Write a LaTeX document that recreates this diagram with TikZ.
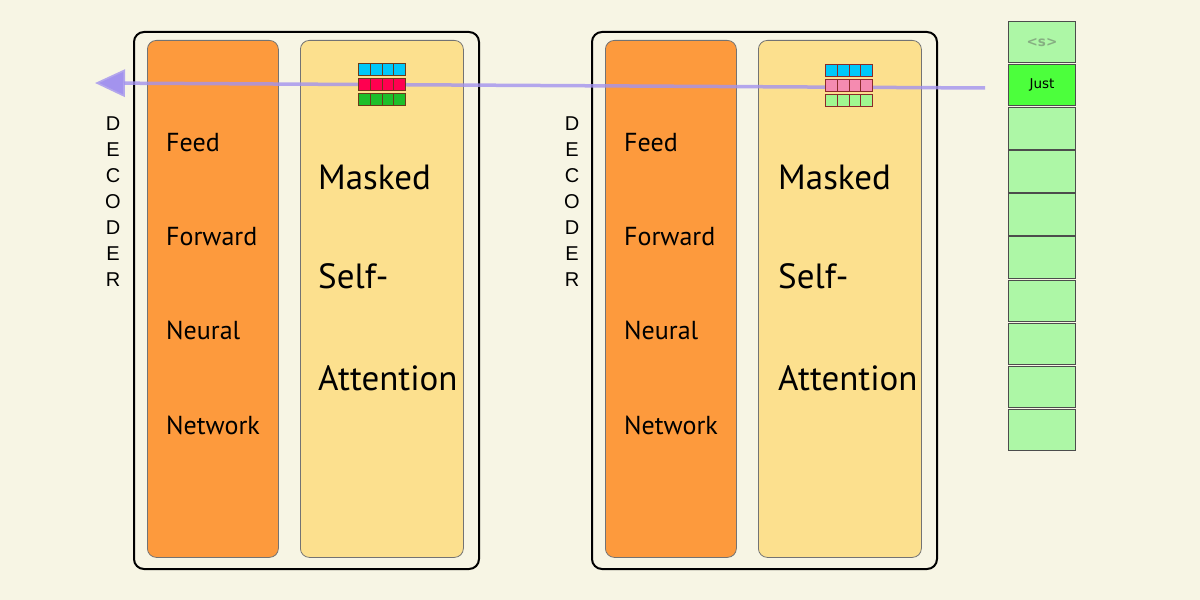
\documentclass[tikz,border=0pt]{standalone}
\usepackage{fontspec}
\setmainfont{PT Sans}
\newfontfamily\decfont{Liberation Sans}
\newfontfamily\tokfont{DejaVu Sans}
\usetikzlibrary{arrows.meta}
\definecolor{bg}{HTML}{F7F5E4}
\definecolor{orangeblk}{HTML}{FD9A3D}
\definecolor{yellowblk}{HTML}{FCE08E}
\definecolor{toklight}{HTML}{ADF7A6}
\definecolor{tokjust}{HTML}{4CFF3C}
\definecolor{arrowcol}{HTML}{A393EE}
\definecolor{gblue}{HTML}{00C8F8}
\definecolor{gred}{HTML}{FF0050}
\definecolor{ggreen}{HTML}{1DBF2A}
\definecolor{gpink}{HTML}{F58BB0}
\definecolor{glgreen}{HTML}{A0F890}
\definecolor{gborderA}{HTML}{6B3A1A}
\definecolor{gborderB}{HTML}{8B2A2A}
\definecolor{tokgray}{HTML}{86AE82}
\begin{document}
\begin{tikzpicture}[x=1bp,y=-1bp,
  outerbox/.style={draw=black, line width=2bp, rounded corners=10bp, anchor=north west, inner sep=0pt},
  ffbox/.style={draw=black!55, line width=0.8bp, fill=orangeblk, rounded corners=9bp, anchor=north west, inner sep=0pt, minimum width=131bp, minimum height=517bp},
  attbox/.style={draw=black!55, line width=0.8bp, fill=yellowblk, rounded corners=9bp, anchor=north west, inner sep=0pt, minimum width=163bp, minimum height=517bp},
  fftext/.style={anchor=base west, inner sep=0pt, font=\fontsize{26bp}{30bp}\selectfont},
  atttext/.style={anchor=base west, inner sep=0pt, font=\fontsize{35bp}{40bp}\selectfont},
  dectext/.style={anchor=north, inner sep=0pt, align=center, font=\decfont\fontsize{20bp}{26bp}\selectfont},
  gcell/.style={draw=#1, line width=1bp, inner sep=0pt, minimum width=11.75bp, minimum height=12.5bp, anchor=north west},
  tokcell/.style={draw=black!70, line width=1bp, fill=#1, inner sep=0pt, minimum width=67bp, minimum height=41.5bp, anchor=north west},
  arrowline/.style={draw=arrowcol, draw opacity=0.8, line width=3.5bp, -{Triangle[length=30bp,width=27bp,fill=arrowcol]}}
]
\useasboundingbox (0,0) rectangle (1200,600);
\fill[bg] (0,0) rectangle (1200,600);

% ---------- left decoder ----------
\node[outerbox, minimum width=345bp, minimum height=537bp] (outerL) at (133,31) {};
\node[ffbox] (ffL) at (147,40) {};
\node[attbox] (attL) at (300,40) {};
\node[dectext] (decL) at (113,117) {D\\E\\C\\O\\D\\E\\R};
\node[fftext] (feedL) at (166,152) {Feed};
\node[fftext] (fwdL) at (166,246) {Forward};
\node[fftext] (neuL) at (166,340) {Neural};
\node[fftext] (netL) at (166,434) {Network};
\node[atttext] (maskL) at (318,190) {Masked};
\node[atttext] (selfL) at (318,289) {Self-};
\node[atttext] (attnL) at (318,390) {Attention};

% ---------- right decoder ----------
\node[outerbox, minimum width=345bp, minimum height=537bp] (outerR) at (591,31) {};
\node[ffbox] (ffR) at (605,40) {};
\node[attbox] (attR) at (758,40) {};
\node[dectext] (decR) at (572,117) {D\\E\\C\\O\\D\\E\\R};
\node[fftext] (feedR) at (624,152) {Feed};
\node[fftext] (fwdR) at (624,246) {Forward};
\node[fftext] (neuR) at (624,340) {Neural};
\node[fftext] (netR) at (624,434) {Network};
\node[atttext] (maskR) at (778,190) {Masked};
\node[atttext] (selfR) at (778,289) {Self-};
\node[atttext] (attnR) at (778,390) {Attention};

% ---------- arrow ----------
\coordinate (astart) at (985,88);
\coordinate (aend) at (95,83);
\draw[arrowline] (astart) -- (aend);

% ---------- small grids (above the arrow) ----------
\foreach \i in {0,1,2,3}{
  \node[gcell=gborderA, fill=gblue] (gLa\i) at (358+\i*11.75,63) {};
  \node[gcell=gborderA, fill=gred] (gLb\i) at (358+\i*11.75,78) {};
  \node[gcell=gborderA, fill=ggreen] (gLc\i) at (358+\i*11.75,93) {};
  \node[gcell=gborderB, fill=gblue] (gRa\i) at (825+\i*11.75,64) {};
  \node[gcell=gborderB, fill=gpink] (gRb\i) at (825+\i*11.75,79) {};
  \node[gcell=gborderB, fill=glgreen] (gRc\i) at (825+\i*11.75,94) {};
}

% ---------- token column ----------
\node[tokcell=toklight] (t0) at (1008,21) {};
\node[font=\tokfont\bfseries\fontsize{13.5bp}{15bp}\selectfont, text=tokgray, inner sep=0pt] (t0lab) at (t0.center) {<s>};
\node[tokcell=tokjust] (t1) at (1008,64) {};
\node[font=\tokfont\fontsize{13.5bp}{15bp}\selectfont, inner sep=0pt] (t1lab) at (t1.center) {Just};
\foreach \i in {2,...,9}{
  \node[tokcell=toklight] (t\i) at (1008,21+\i*43.1) {};
}
\end{tikzpicture}
\end{document}
